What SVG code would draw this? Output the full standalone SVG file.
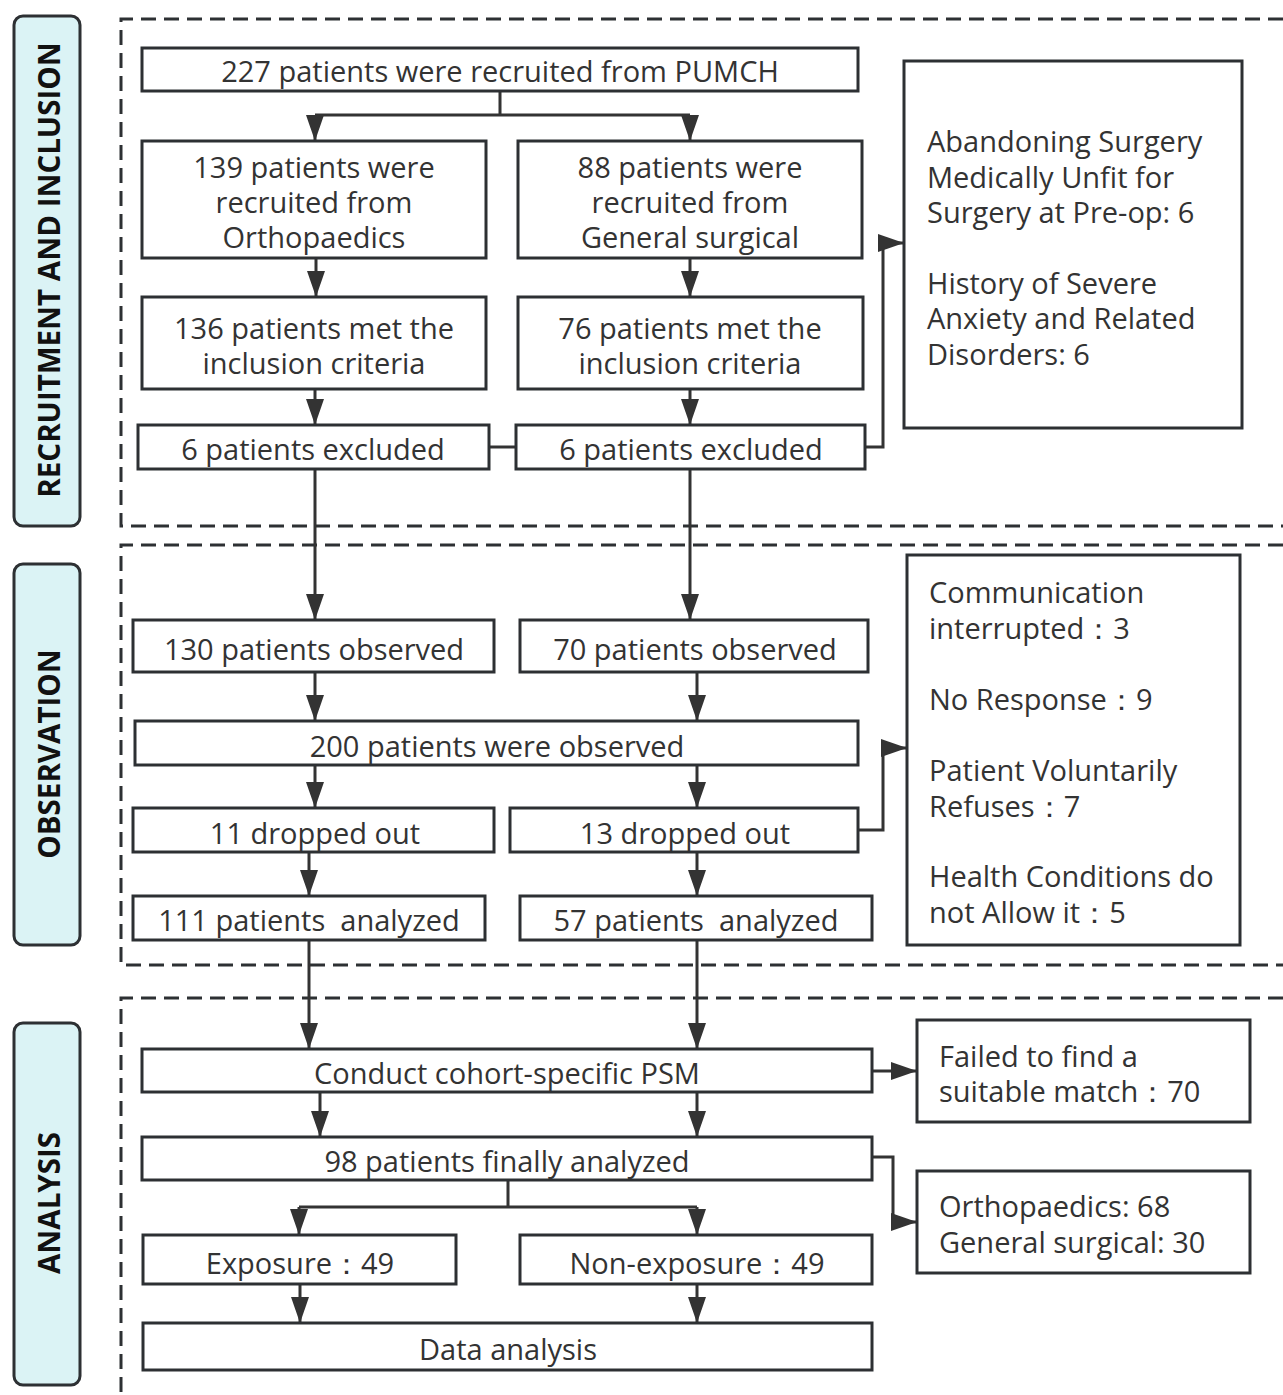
<svg xmlns="http://www.w3.org/2000/svg" width="1283" height="1395" viewBox="0 0 1283 1395">
<defs>
<marker id="arr" markerUnits="userSpaceOnUse" markerWidth="26" markerHeight="20" viewBox="0 0 26 20" refX="26" refY="10" orient="auto">
<path d="M0,1 L26,10 L0,19 z" fill="#333"/>
</marker>
</defs>
<style>
.box{fill:#fff;stroke:#2d3033;stroke-width:3}
.side{fill:#dbf3f5;stroke:#2d3033;stroke-width:3}
.dash{fill:none;stroke:#2d3033;stroke-width:3;stroke-dasharray:15 8}
.t{font-family:"Open Sans","Noto Sans","DejaVu Sans",sans-serif;font-size:29px;fill:#333;dominant-baseline:central}
.c{text-anchor:middle}
.s{font-family:"Open Sans","Noto Sans","DejaVu Sans",sans-serif;font-size:29.5px;font-weight:bold;fill:#111;text-anchor:middle;dominant-baseline:central}
.ln{fill:none;stroke:#333;stroke-width:3}
.a{fill:none;stroke:#333;stroke-width:3;marker-end:url(#arr)}
</style>
<rect width="1283" height="1395" fill="#fff"/>
<g id="panels">
<path class="dash" d="M1283,19 H121 V526 H1283"/>
<path class="dash" d="M1283,545 H121 V965 H1283"/>
<path class="dash" d="M1283,998 H121 V1395"/>
</g>
<g id="side1"><rect class="side" x="14" y="16" width="66" height="510" rx="9"/><text class="s" transform="translate(48,270) rotate(-90)">RECRUITMENT AND INCLUSION</text></g>
<g id="side2"><rect class="side" x="14" y="564" width="66" height="381" rx="9"/><text class="s" transform="translate(48,754) rotate(-90)">OBSERVATION</text></g>
<g id="side3"><rect class="side" x="14" y="1023" width="66" height="362" rx="9"/><text class="s" transform="translate(48,1203) rotate(-90)">ANALYSIS</text></g>
<g id="connectors">
<path class="ln" d="M500,91 V115 M315,115 H690"/>
<path class="a" d="M315,115 V141"/>
<path class="a" d="M690,115 V141"/>
<path class="a" d="M316,258 V297"/>
<path class="a" d="M690,258 V297"/>
<path class="a" d="M315,389 V425"/>
<path class="a" d="M690,389 V425"/>
<path class="ln" d="M489,447 H516"/>
<path class="a" d="M865,447 H883 V243 H904"/>
<path class="a" d="M315,469 V620"/>
<path class="a" d="M690,469 V620"/>
<path class="a" d="M315,672 V721"/>
<path class="a" d="M697,672 V721"/>
<path class="a" d="M315,765 V808"/>
<path class="a" d="M697,765 V808"/>
<path class="a" d="M858,830 H883 V748 H907"/>
<path class="a" d="M309,852 V896"/>
<path class="a" d="M697,852 V896"/>
<path class="a" d="M309,940 V1049"/>
<path class="a" d="M697,940 V1049"/>
<path class="a" d="M872,1071 H917"/>
<path class="a" d="M320,1092 V1137"/>
<path class="a" d="M697,1092 V1137"/>
<path class="a" d="M872,1157 H893 V1222 H917"/>
<path class="ln" d="M508,1180 V1207 M299,1207 H697"/>
<path class="a" d="M299,1207 V1235"/>
<path class="a" d="M697,1207 V1235"/>
<path class="a" d="M300,1284 V1323"/>
<path class="a" d="M697,1284 V1323"/>
</g>
<g id="n1"><rect class="box" x="142" y="48" width="716" height="43"/><text class="t c" x="500" y="70">227 patients were recruited from PUMCH</text></g>
<g id="n2"><rect class="box" x="142" y="141" width="344" height="117"/><text class="t c" x="314" y="166">139 patients were</text><text class="t c" x="314" y="201">recruited from</text><text class="t c" x="314" y="236">Orthopaedics</text></g>
<g id="n3"><rect class="box" x="518" y="141" width="344" height="117"/><text class="t c" x="690" y="166">88 patients were</text><text class="t c" x="690" y="201">recruited from</text><text class="t c" x="690" y="236">General surgical</text></g>
<g id="n4"><rect class="box" x="142" y="297" width="344" height="92"/><text class="t c" x="314" y="327">136 patients met the</text><text class="t c" x="314" y="362">inclusion criteria</text></g>
<g id="n5"><rect class="box" x="518" y="297" width="345" height="92"/><text class="t c" x="690" y="327">76 patients met the</text><text class="t c" x="690" y="362">inclusion criteria</text></g>
<g id="n6"><rect class="box" x="138" y="425" width="351" height="44"/><text class="t c" x="313" y="448">6 patients excluded</text></g>
<g id="n7"><rect class="box" x="516" y="425" width="349" height="44"/><text class="t c" x="691" y="448">6 patients excluded</text></g>
<g id="n8"><rect class="box" x="904" y="61" width="338" height="367"/>
<text class="t" x="927" y="140">Abandoning Surgery</text><text class="t" x="927" y="176">Medically Unfit for</text><text class="t" x="927" y="211">Surgery at Pre-op: 6</text>
<text class="t" x="927" y="282">History of Severe</text><text class="t" x="927" y="317">Anxiety and Related</text><text class="t" x="927" y="353">Disorders: 6</text></g>
<g id="n9"><rect class="box" x="133" y="620" width="361" height="52"/><text class="t c" x="314" y="648">130 patients observed</text></g>
<g id="n10"><rect class="box" x="520" y="620" width="348" height="52"/><text class="t c" x="695" y="648">70 patients observed</text></g>
<g id="n11"><rect class="box" x="135" y="721" width="723" height="44"/><text class="t c" x="497" y="745">200 patients were observed</text></g>
<g id="n12"><rect class="box" x="133" y="808" width="361" height="44"/><text class="t c" x="315" y="832">11 dropped out</text></g>
<g id="n13"><rect class="box" x="510" y="808" width="348" height="44"/><text class="t c" x="685" y="832">13 dropped out</text></g>
<g id="n14"><rect class="box" x="907" y="555" width="333" height="390"/>
<text class="t" x="929" y="591">Communication</text><text class="t" x="929" y="627">interrupted：3</text>
<text class="t" x="929" y="698">No Response：9</text>
<text class="t" x="929" y="769">Patient Voluntarily</text><text class="t" x="929" y="805">Refuses：7</text>
<text class="t" x="929" y="875">Health Conditions do</text><text class="t" x="929" y="911">not Allow it：5</text></g>
<g id="n15"><rect class="box" x="133" y="896" width="352" height="44"/><text class="t c" x="309" y="919" xml:space="preserve">111 patients  analyzed</text></g>
<g id="n16"><rect class="box" x="520" y="896" width="352" height="44"/><text class="t c" x="696" y="919" xml:space="preserve">57 patients  analyzed</text></g>
<g id="n17"><rect class="box" x="142" y="1049" width="730" height="43"/><text class="t c" x="507" y="1072">Conduct cohort-specific PSM</text></g>
<g id="n18"><rect class="box" x="917" y="1020" width="333" height="102"/><text class="t" x="939" y="1055">Failed to find a</text><text class="t" x="939" y="1090">suitable match：70</text></g>
<g id="n19"><rect class="box" x="142" y="1137" width="730" height="43"/><text class="t c" x="507" y="1160">98 patients finally analyzed</text></g>
<g id="n20"><rect class="box" x="917" y="1171" width="333" height="102"/><text class="t" x="939" y="1205">Orthopaedics: 68</text><text class="t" x="939" y="1241">General surgical: 30</text></g>
<g id="n21"><rect class="box" x="143" y="1235" width="313" height="49"/><text class="t c" x="300" y="1262">Exposure：49</text></g>
<g id="n22"><rect class="box" x="520" y="1235" width="352" height="49"/><text class="t c" x="697" y="1262">Non-exposure：49</text></g>
<g id="n23"><rect class="box" x="143" y="1323" width="729" height="47"/><text class="t c" x="508" y="1348">Data analysis</text></g>
</svg>
